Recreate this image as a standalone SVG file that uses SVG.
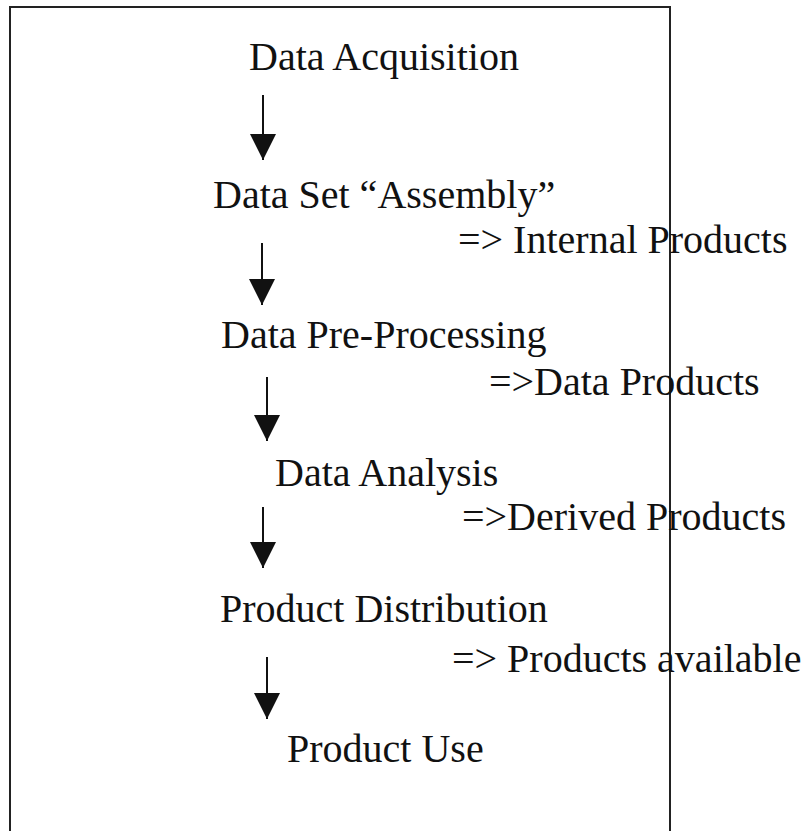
<svg xmlns="http://www.w3.org/2000/svg" width="804" height="831" viewBox="0 0 804 831">
  <style>
    text { font-family: "Liberation Serif", "Times New Roman", serif; font-size: 40px; fill: #111; }
    .frame { fill: none; stroke: #222; stroke-width: 2; }
    .conn { stroke: #111; stroke-width: 2; fill: none; marker-end: url(#head); }
  </style>
  <defs>
    <marker id="head" viewBox="0 0 26 26" refX="26" refY="13" markerWidth="26" markerHeight="26" markerUnits="userSpaceOnUse" orient="auto">
      <path d="M0,0 L26,13 L0,26 Z" fill="#111"/>
    </marker>
  </defs>
  <rect width="804" height="831" fill="#fff"/>
  <path class="frame" d="M10,831 V7 H670 V831"/>
  <g id="n-acquisition"><text x="249" y="70">Data Acquisition</text></g>
  <g id="n-assembly"><text x="213" y="208">Data Set “Assembly”</text></g>
  <g id="l-internal"><text x="458" y="253">=&gt; Internal Products</text></g>
  <g id="n-preprocessing"><text x="221" y="348">Data Pre-Processing</text></g>
  <g id="l-data"><text x="489" y="395">=&gt;Data Products</text></g>
  <g id="n-analysis"><text x="275" y="486">Data Analysis</text></g>
  <g id="l-derived"><text x="462" y="530">=&gt;Derived Products</text></g>
  <g id="n-distribution"><text x="220" y="622">Product Distribution</text></g>
  <g id="l-available"><text x="452" y="672">=&gt; Products available</text></g>
  <g id="n-use"><text x="287" y="762">Product Use</text></g>
  <g id="connectors">
    <line class="conn" x1="263" y1="95" x2="263" y2="160"/>
    <line class="conn" x1="262" y1="243" x2="262" y2="305"/>
    <line class="conn" x1="267" y1="377" x2="267" y2="441"/>
    <line class="conn" x1="263" y1="507" x2="263" y2="568"/>
    <line class="conn" x1="267" y1="657" x2="267" y2="719"/>
  </g>
</svg>
